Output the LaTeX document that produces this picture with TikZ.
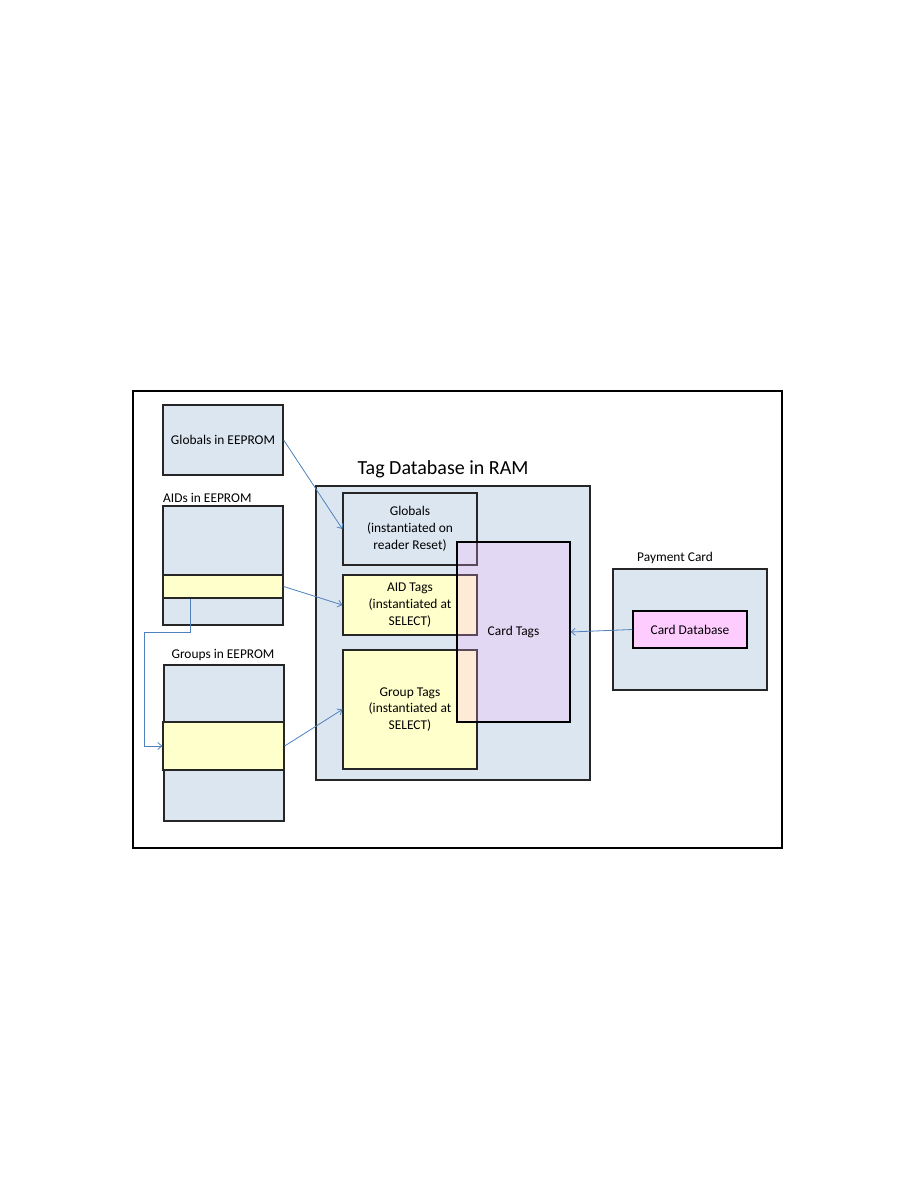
\documentclass[tikz,border=0pt]{standalone}
\usepackage{fontspec}
\setmainfont{Carlito}[Ligatures=NoCommon]
\usetikzlibrary{arrows.meta}

\definecolor{memblue}{RGB}{220,230,241}
\definecolor{tagyellow}{RGB}{255,255,204}
\definecolor{cardpink}{RGB}{255,204,255}
\definecolor{veilpink}{RGB}{250,176,250}
\definecolor{linkblue}{RGB}{79,129,189}

\begin{document}
\begin{tikzpicture}[
    x=1pt, y=-1pt,
    every node/.style={color=black, font=\fontsize{13.4}{16.8}\selectfont},
    frame/.style={draw=black, line width=1.6pt},
    mem box/.style={draw=black!85, line width=1.3pt, fill=memblue, inner sep=0pt, align=center},
    tag box/.style={draw=black!85, line width=1.3pt, fill=tagyellow, inner sep=0pt, align=center},
    card box/.style={draw=black, line width=1.3pt, fill=cardpink, inner sep=0pt},
    veil box/.style={draw=black, line width=1.3pt, fill=veilpink, fill opacity=0.25, text opacity=1, inner sep=0pt},
    link/.style={draw=linkblue, line width=0.8pt, -{Straight Barb[length=4pt,width=7pt]}}
    ]

\fill[white] (0,0) rectangle (918,1188);
\useasboundingbox (0,0) rectangle (918,1188);

\draw[frame] (133,391) rectangle (782,848);

% EEPROM side
\node (globee) [mem box, minimum width=120pt, minimum height=70pt] at (223,440) {Globals in EEPROM};

\node (aidee) [mem box, minimum width=120pt, minimum height=119pt] at (223,565.5) {};
\node (aidlbl) [anchor=south west, inner sep=0pt] at (163,503) {AIDs in EEPROM};
\node (aidstrip) [tag box, minimum width=120pt, minimum height=23pt] at (223,586.5) {};

\node (grpee) [mem box, minimum width=120pt, minimum height=156pt] at (224,743) {};
\node (grplbl) [anchor=south, inner sep=0pt] at (223,661) {Groups in EEPROM};
\node (grpstrip) [tag box, minimum width=121pt, minimum height=48pt] at (223.5,746) {};

% RAM database
\node (ramlbl) at (443,469) {\fontsize{20}{24}\selectfont Tag Database in RAM};
\node (ramdb) [mem box, minimum width=274pt, minimum height=294pt] at (453,633) {};
\node (glob) [mem box, minimum width=134pt, minimum height=72pt] at (410,529)
    {Globals\\(instantiated on\\reader Reset)};
\node (aidtags) [tag box, minimum width=134pt, minimum height=60pt] at (410,605)
    {AID Tags\\(instantiated at\\SELECT)};
\node (grptags) [tag box, minimum width=134pt, minimum height=119pt] at (410,709.5)
    {Group Tags\\(instantiated at\\SELECT)};
\node (cardtags) [veil box, minimum width=113pt, minimum height=180pt] at (513.5,632) {Card Tags};

% card
\node (paylbl) [anchor=south west, inner sep=0pt] at (637,564) {Payment Card};
\node (paycard) [mem box, minimum width=154pt, minimum height=121pt] at (690,629.5) {};
\node (carddb) [card box, minimum width=114pt, minimum height=37pt] at (690,629.5) {Card Database};

\draw[link] (globee.east) -- (glob.west);
\draw[link] (aidstrip.east) -- (aidtags.west);
\draw[link] (grpstrip.east) -- (grptags.west);
\draw[link] (carddb.west) -- (cardtags.east);
\draw[link] ([xshift=28pt]aidstrip.south west) -- ++(0,-34pt)
    -| ([xshift=-18pt]grpstrip.west) -- (grpstrip.west);

\end{tikzpicture}
\end{document}
